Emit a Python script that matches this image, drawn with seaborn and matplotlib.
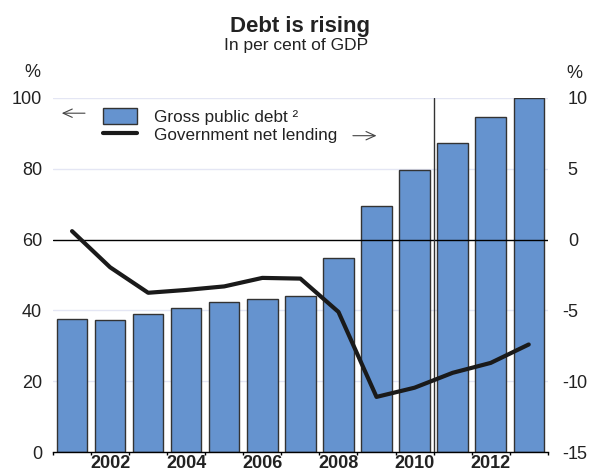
import pandas as pd
import matplotlib.pyplot as plt
import seaborn as sns
from matplotlib.patches import Patch
from matplotlib.lines import Line2D

# data
years = list(range(2001, 2014))
gross_debt = [37.6, 37.3, 39.0, 40.8, 42.4, 43.2, 44.2, 54.7, 69.5, 79.7, 87.3, 94.7, 100.0]
net_lending = [0.6, -1.95, -3.75, -3.55, -3.3, -2.7, -2.75, -5.1, -11.1, -10.45, -9.4, -8.7, -7.4]
left_ticks = [0, 20, 40, 60, 80, 100]
right_ticks = [-15, -10, -5, 0, 5, 10]
year_labels = [2002, 2004, 2006, 2008, 2010, 2012]

df = pd.DataFrame({"year": years, "debt": gross_debt, "lending": net_lending})

sns.set_theme(style="white")
plt.rcParams["font.family"] = ["Liberation Sans", "DejaVu Sans"]
plt.rcParams["axes.unicode_minus"] = False

bar_color = "#6593CF"
line_color = "#1a1a1a"
grid_color = "#E4E6F4"
text_color = "#222222"
fs = 13

fig = plt.figure(figsize=(5.89, 4.71), dpi=100)
ax = fig.add_axes([0.09, 0.04, 0.84, 0.752])

# light grid behind the bars
for v in [20, 40, 80, 100]:
    ax.axhline(v, color=grid_color, lw=1, zorder=0)

sns.barplot(data=df, x="year", y="debt", native_scale=True, width=0.8,
            color=bar_color, saturation=1, edgecolor="#333333", linewidth=1,
            ax=ax, zorder=2)
ax.axhline(60, color="black", lw=1, zorder=3)
ax.axvline(2010.5, color="#333333", lw=1, zorder=3)

ax.set_xlim(2000.5, 2013.5)
ax.set_ylim(0, 100)
ax.set_yticks(left_ticks)
ax.set_xticks(year_labels)
ax.set_xticks([y + 0.5 for y in range(2000, 2014)], minor=True)
ax.set_xticklabels([str(y) for y in year_labels], fontweight="bold", fontsize=fs,
                   color=text_color)
ax.tick_params(axis="x", which="major", length=0, pad=2)
ax.tick_params(axis="x", which="minor", length=2.5, width=1, color="black", direction="out", bottom=True)
ax.tick_params(axis="y", length=0, labelsize=fs, pad=8, labelcolor=text_color)
ax.set_xlabel("")
ax.set_ylabel("")
for s in ["left", "right", "top"]:
    ax.spines[s].set_visible(False)
ax.spines["bottom"].set_color("black")
ax.spines["bottom"].set_linewidth(1)

# net lending on the right axis
ax2 = ax.twinx()
sns.lineplot(data=df, x="year", y="lending", color=line_color, lw=3, ax=ax2)
ax2.set_ylim(-15, 10)
ax2.set_yticks(right_ticks)
ax2.set_yticklabels([])
ax2.tick_params(axis="y", length=0)
ax2.set_ylabel("")
for s in ["left", "right", "top", "bottom"]:
    ax2.spines[s].set_visible(False)
ax2.set_xlim(2000.5, 2013.5)

# right labels: digits aligned, minus sign hanging to the left
for v in right_ticks:
    ax2.annotate(str(abs(v)), xy=(1, v), xycoords=("axes fraction", "data"),
                 xytext=(14.4, 0), textcoords="offset points",
                 ha="left", va="center_baseline", fontsize=fs, color=text_color)
    if v < 0:
        ax2.annotate("-", xy=(1, v), xycoords=("axes fraction", "data"),
                     xytext=(14.4, 0), textcoords="offset points",
                     ha="right", va="center_baseline", fontsize=fs, color=text_color)

handles = [Patch(facecolor=bar_color, edgecolor="#333333", linewidth=1),
           Line2D([0], [0], color=line_color, lw=3)]
ax2.legend(handles, ["Gross public debt ²", "Government net lending"],
           loc="upper left", bbox_to_anchor=(0.0875, 0.992), frameon=False,
           fontsize=12.3, handlelength=2.0, handleheight=1.12,
           handletextpad=1.0, labelspacing=0.08, borderaxespad=0,
           borderpad=0.4, labelcolor=text_color)

# direction arrows
arrow = dict(arrowstyle="->,head_length=0.55,head_width=0.25", lw=0.8,
             color="#444444", shrinkA=0, shrinkB=0)
ax.annotate("", xy=(2000.73, 95.7), xytext=(2001.34, 95.7), arrowprops=arrow)
ax.annotate("", xy=(2009.0, 89.35), xytext=(2008.38, 89.35), arrowprops=arrow)

fig.text(32 / 589, 1 - 72.5 / 471, "%", fontsize=fs, ha="center", va="center",
         color=text_color)
fig.text(574.7 / 589, 1 - 73 / 471, "%", fontsize=fs, ha="center", va="center",
         color=text_color)
fig.text(300 / 589, 1 - 31.7 / 471, "Debt is rising", fontsize=16, fontweight="bold",
         ha="center", va="baseline", color=text_color)
fig.text(296.5 / 589, 1 - 50 / 471, "In per cent of GDP", fontsize=12.5,
         ha="center", va="baseline", color=text_color)

fig.savefig("out.png", dpi=100)
